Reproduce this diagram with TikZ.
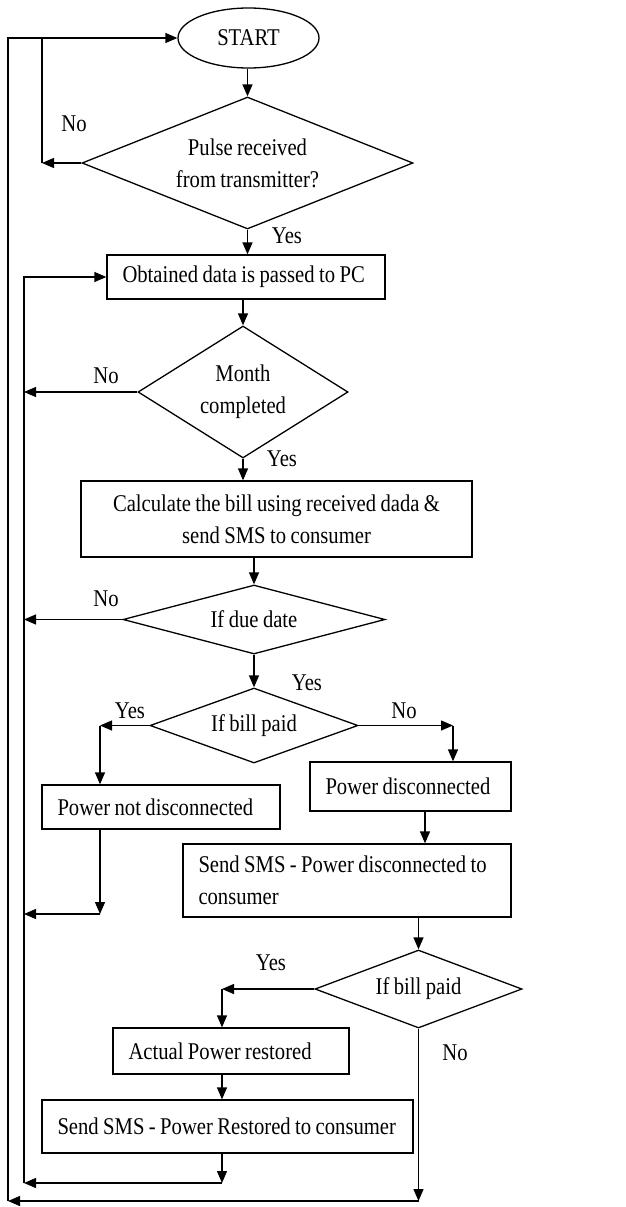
\documentclass[tikz,border=0pt]{standalone}
\usepackage{fontspec}
\setmainfont{Liberation Serif}[FakeStretch=0.86, WordSpace=0.86]
\usetikzlibrary{shapes.geometric,arrows.meta}

\begin{document}
\begin{tikzpicture}[x=1pt, y=-1pt, line width=1.3pt,
  >={Triangle[length=12pt,width=10pt]},
  every node/.style={font=\fontsize{24}{32}\selectfont},
  term/.style={draw, ellipse, inner sep=0pt},
  cond/.style={draw, diamond, inner sep=0pt, align=center},
  proc/.style={draw, rectangle, inner xsep=15.5pt, inner ysep=0pt, align=flush left},
  lbl/.style={inner sep=0pt}]
  \useasboundingbox (0,0) rectangle (625,1207);

  % Blocs
  \node[term, minimum width=141pt, minimum height=60pt] (start) at (248.5,38) {START};
  \node[cond, aspect=2.5, minimum width=331pt, minimum height=132pt] (pulse) at (247.5,163) {Pulse received\\from transmitter?};
  \node[proc, text width=247pt, minimum height=44pt] (obtain) at (246,277) {Obtained data is passed to PC};
  \node[cond, aspect=1.6, minimum width=210pt, minimum height=132pt] (month) at (243,392) {Month\\completed};
  \node[proc, align=flush center, text width=360pt, minimum height=76pt] (calc) at (276.5,519) {Calculate the bill using received dada \&\\send SMS to consumer};
  \node[cond, aspect=3.8, minimum width=262pt, minimum height=69pt] (due) at (254,619.5) {If due date};
  \node[cond, aspect=2.8, minimum width=208pt, minimum height=75pt] (paid) at (254,725.5) {If bill paid};
  \node[proc, text width=207pt, minimum height=44pt] (notdisc) at (161,807) {Power not disconnected};
  \node[proc, text width=170pt, minimum height=49pt] (disc) at (410.5,786.5) {Power disconnected};
  \node[proc, text width=297pt, minimum height=73pt] (smsdisc) at (347,880.5) {Send SMS - Power disconnected to\\consumer};
  \node[cond, aspect=2.65, minimum width=207pt, minimum height=78pt] (paidtwo) at (418.5,989) {If bill paid};
  \node[proc, text width=205pt, minimum height=46pt] (restored) at (231,1051) {Actual Power restored};
  \node[proc, text width=340pt, minimum height=53pt] (smsrest) at (227.5,1126.5) {Send SMS - Power Restored to consumer};

  % Etiquettes
  \node[lbl] (no1) at (74,124) {No};
  \node[lbl] (yes1) at (287,236) {Yes};
  \node[lbl] (no2) at (106,376) {No};
  \node[lbl] (yes2) at (282,459) {Yes};
  \node[lbl] (no3) at (106,599) {No};
  \node[lbl] (yes3) at (307,683) {Yes};
  \node[lbl] (yes4) at (130,711) {Yes};
  \node[lbl] (no4) at (404,711) {No};
  \node[lbl] (yes5) at (271,963) {Yes};
  \node[lbl] (no5) at (455,1053) {No};

  % Points de passage
  \coordinate (pl) at (42,163);
  \coordinate (back) at (24,1183);
  \coordinate (outer) at (8,1201);
  \coordinate (py) at (100,725.5);
  \coordinate (pn) at (453,725.5);
  \coordinate (qy) at (222,989);
  \coordinate (r1) at (100,914);
  \coordinate (r2) at (222,1183);
  \coordinate (r3) at (418.5,1201);

  % Fleches principales
  \draw[->] (pulse.north |- start.south) -- (pulse.north);
  \draw[->] (pulse.south) -- (pulse.south |- obtain.north);
  \draw[->] (month.north |- obtain.south) -- (month.north);
  \draw[->] (month.south) -- (month.south |- calc.north);
  \draw[->] (due.north |- calc.south) -- (due.north);
  \draw[->] (due.south) -- (paid.north);

  % Branches de paid
  \draw[->] (paid.west) -- (py);
  \draw[->] (py) -- (py |- notdisc.north);
  \draw[->] (paid.east) -- (pn);
  \draw[->] (pn) -- (pn |- disc.north);
  \draw[->] ([xshift=14.5pt]disc.south) -- ([xshift=14.5pt]disc.south |- smsdisc.north);
  \draw[->] (paidtwo.north |- smsdisc.south) -- (paidtwo.north);

  % Branches de paidtwo
  \draw[->] (paidtwo.west) -- (qy);
  \draw[->] (qy) -- (qy |- restored.north);
  \draw[->] (qy |- restored.south) -- (qy |- smsrest.north);

  % Retours
  \draw[->] (pulse.west) -- (pl);
  \draw (pl) -- (pl |- start.west);
  \draw[->] (month.west) -- (month.west -| back);
  \draw[->] (due.west) -- (due.west -| back);
  \draw[->] (py |- notdisc.south) -- (r1);
  \draw[->] (r1) -- (r1 -| back);
  \draw[->] (qy |- smsrest.south) -- (r2);
  \draw[->] (r2) -- (back);
  \draw[->] (back) |- (obtain.west);
  \draw[->] (paidtwo.south) -- (r3);
  \draw[->] (r3) -- (outer);
  \draw[->] (outer) |- (start.west);
\end{tikzpicture}
\end{document}
